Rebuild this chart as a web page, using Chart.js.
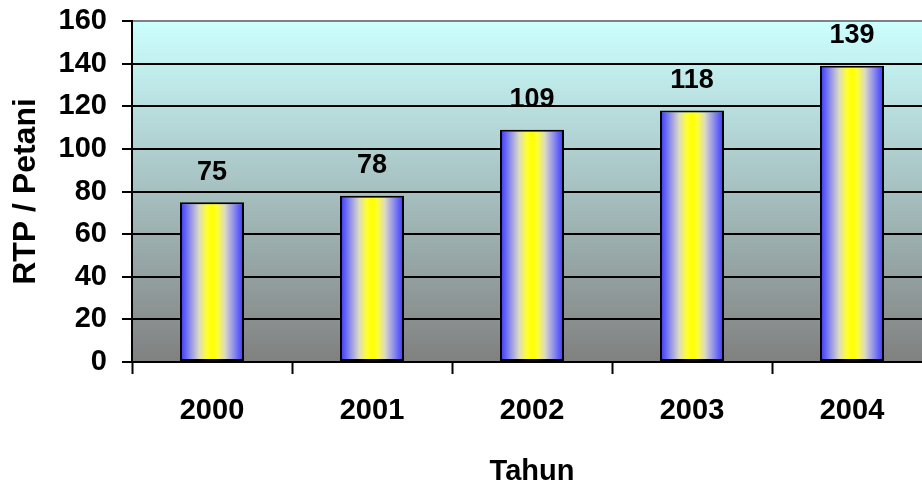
<!DOCTYPE html>
<html>
<head>
<meta charset="utf-8">
<script src="https://cdn.jsdelivr.net/npm/chart.js@4"></script>
<style>
  html, body { margin: 0; padding: 0; background: #fff; overflow: hidden; }
  #chart { display: block; }
</style>
</head>
<body>
<canvas id="chart" width="950" height="486"></canvas>
<script>
// Data
const years = ["2000", "2001", "2002", "2003", "2004"];
const rtpPerPetani = [75, 78, 109, 118, 139];

const FONT = "'Liberation Sans', Arial, sans-serif";
const BAR_PCT = 0.4;

// Horizontal blue-yellow-blue fill for each bar
const barFill = (ctx) => {
    const chart = ctx.chart;
    const xScale = chart.scales.x;
    if (!chart.chartArea || !xScale || ctx.dataIndex === undefined) return "#3333ff";
    const step = xScale.getPixelForValue(1) - xScale.getPixelForValue(0);
    const cx = xScale.getPixelForValue(ctx.dataIndex);
    const half = step * BAR_PCT / 2;
    const g = chart.ctx.createLinearGradient(cx - half, 0, cx + half, 0);
    g.addColorStop(0, "#3333ff");
    g.addColorStop(0.18, "#9a9ae8");
    g.addColorStop(0.3, "#dcdcc0");
    g.addColorStop(0.42, "#ffff30");
    g.addColorStop(0.5, "#ffff00");
    g.addColorStop(0.58, "#ffff30");
    g.addColorStop(0.7, "#dcdcc0");
    g.addColorStop(0.82, "#9a9ae8");
    g.addColorStop(1, "#3333ff");
    return g;
};

// Plot area background, light cyan fading to gray
const plotBackground = {
    id: "plotBackground",
    beforeDraw(chart) {
        const { ctx, chartArea: a } = chart;
        const g = ctx.createLinearGradient(0, a.top, 0, a.bottom);
        g.addColorStop(0, "#ccffff");
        g.addColorStop(1, "#808080");
        ctx.save();
        ctx.fillStyle = g;
        ctx.fillRect(a.left, a.top, a.right - a.left, a.bottom - a.top);
        ctx.restore();
    }
};

// Value above each bar
const valueLabels = {
    id: "valueLabels",
    afterDatasetsDraw(chart) {
        const { ctx } = chart;
        const meta = chart.getDatasetMeta(0);
        ctx.save();
        ctx.font = "bold 27px " + FONT;
        ctx.fillStyle = "#000";
        ctx.textAlign = "center";
        ctx.textBaseline = "middle";
        meta.data.forEach((bar, i) => {
            ctx.fillText(String(rtpPerPetani[i]), bar.x, bar.y - 30);
        });
        ctx.restore();
    }
};

new Chart(document.getElementById("chart"), {
    type: "bar",
    data: {
        labels: years,
        datasets: [{
            data: rtpPerPetani,
            backgroundColor: barFill,
            borderColor: "#000",
            borderWidth: 2,
            borderSkipped: false,
            barPercentage: BAR_PCT,
            categoryPercentage: 1
        }]
    },
    options: {
        responsive: false,
        animation: false,
        layout: { padding: { top: 21, right: 18, left: 0, bottom: 0 } },
        plugins: {
            legend: { display: false },
            tooltip: { enabled: false }
        },
        scales: {
            x: {
                afterFit: (s) => { s.height = 124; s.paddingLeft = 0; s.paddingRight = 0; },
                grid: {
                    drawOnChartArea: false,
                    drawTicks: true,
                    tickLength: 12,
                    tickColor: "#000",
                    tickWidth: 2,
                    offset: true
                },
                border: { color: "#000", width: 2 },
                ticks: {
                    color: "#000",
                    padding: 20,
                    font: { family: FONT, size: 29, weight: "bold" }
                },
                title: {
                    display: true,
                    text: "Tahun",
                    color: "#000",
                    padding: { top: 0, bottom: 0 },
                    font: { family: FONT, size: 29, weight: "bold", lineHeight: 1 }
                }
            },
            y: {
                min: 0,
                max: 160,
                afterFit: (s) => { s.width = 132; s.paddingTop = 0; s.paddingBottom = 0; },
                grid: {
                    color: (c) => (c.tick && c.tick.value === 160 ? "#808080" : "#000"),
                    lineWidth: 2,
                    drawTicks: true,
                    tickLength: 10,
                    tickColor: "#000",
                    tickWidth: 2
                },
                border: { color: "#000", width: 2 },
                ticks: {
                    stepSize: 20,
                    color: "#000",
                    padding: 15,
                    font: { family: FONT, size: 29, weight: "bold" }
                },
                title: {
                    display: true,
                    text: "RTP / Petani",
                    color: "#000",
                    padding: { top: 7, bottom: 0 },
                    font: { family: FONT, size: 32, weight: "bold" }
                }
            }
        }
    },
    plugins: [plotBackground, valueLabels]
});
</script>
</body>
</html>
